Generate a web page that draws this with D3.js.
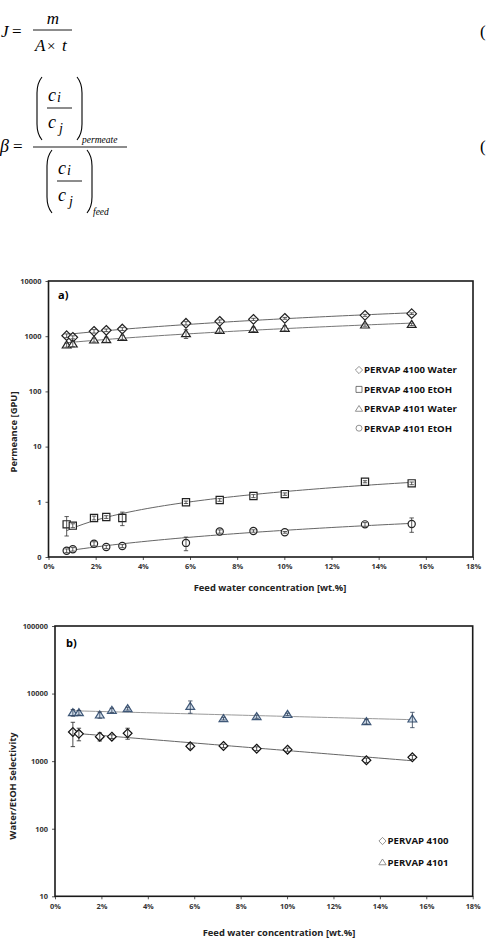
<!DOCTYPE html>
<html>
<head>
<meta charset="utf-8">
<script src="https://cdn.jsdelivr.net/npm/d3@7"></script>
<style>
  body { margin: 0; background: #fff; }
  svg { display: block; }
</style>
</head>
<body>
<script>
// feed water concentration [wt.%]
var feedWater = [0.77, 1.03, 1.93, 2.45, 3.13, 5.83, 7.26, 8.69, 10.02, 13.42, 15.4];

// a) permeance [GPU]
var perm4100Water    = [1020, 955, 1227, 1280, 1350, 1715, 1860, 2020, 2110, 2390, 2560];
var perm4100WaterErr = [80, 60, 90, 70, 80, 120, 110, 90, 80, 100, 90];
var perm4100EtOH     = [0.39, 0.37, 0.51, 0.53, 0.51, 0.98, 1.08, 1.27, 1.38, 2.31, 2.16];
var perm4100EtOHErr  = [0.15, 0.03, 0.04, 0.03, 0.14, 0.05, 0.06, 0.08, 0.07, 0.1, 0.12];
var perm4101Water    = [693, 723, 853, 865, 955, 1110, 1280, 1333, 1390, 1597, 1640];
var perm4101WaterErr = [60, 80, 70, 90, 80, 200, 100, 120, 150, 80, 80];
var perm4101EtOH     = [0.13, 0.138, 0.174, 0.152, 0.158, 0.18, 0.29, 0.296, 0.28, 0.39, 0.395];
var perm4101EtOHErr  = [0.01, 0.01, 0.015, 0.01, 0.01, 0.05, 0.02, 0.015, 0.01, 0.03, 0.115];

// b) water/EtOH selectivity
var sel4100    = [2700, 2535, 2305, 2305, 2590, 1660, 1680, 1530, 1480, 1030, 1140];
var sel4100Err = [1060, 535, 315, 150, 480, 150, 100, 100, 80, 80, 80];
var sel4101    = [5220, 5220, 4820, 5660, 5990, 6445, 4260, 4550, 4930, 3850, 4205];
var sel4101Err = [600, 400, 500, 400, 300, 1335, 200, 250, 200, 300, 1075];

// axes
var xTicks = [0, 2, 4, 6, 8, 10, 12, 14, 16, 18];
var yTicksA = [0.1, 1, 10, 100, 1000, 10000];
var yLabelsA = ["0", "1", "10", "100", "1000", "10000"];
var yTicksB = [10, 100, 1000, 10000, 100000];
var yLabelsB = ["10", "100", "1000", "10000", "100000"];

var font = "'Open Sans', 'Noto Sans', sans-serif";

var svg = d3.select("body").append("svg")
    .attr("width", 486)
    .attr("height", 940);

// ---------- equations ----------
var eq = svg.append("g")
    .attr("font-family", "'Liberation Serif', 'DejaVu Serif', serif")
    .attr("fill", "#000");

function eqText(x, y, s, size, italic, anchor) {
  eq.append("text")
    .attr("x", x).attr("y", y)
    .attr("font-size", size)
    .attr("font-style", italic ? "italic" : "normal")
    .attr("text-anchor", anchor || "start")
    .text(s);
}
function eqBar(x1, x2, y) {
  eq.append("line").attr("x1", x1).attr("x2", x2).attr("y1", y).attr("y2", y)
    .attr("stroke", "#000").attr("stroke-width", 0.9);
}
function paren(x, y1, y2, dir) {
  // dir = 1 for "(", -1 for ")"
  var w = 5 * dir;
  eq.append("path")
    .attr("d", "M" + (x + w) + "," + y1 +
      " Q" + x + "," + (y1 + 6) + " " + x + "," + (y1 + 16) +
      " L" + x + "," + (y2 - 16) +
      " Q" + x + "," + (y2 - 6) + " " + (x + w) + "," + y2)
    .attr("fill", "none").attr("stroke", "#000").attr("stroke-width", 1.1);
}

eqText(1, 37, "J", 17, true);
eqText(12, 37, "=", 17, false);
eqBar(33, 72, 30);
eqText(53, 24, "m", 17, true, "middle");
eqText(35, 51, "A", 17, true);
eqText(47, 51, "×", 15, false);
eqText(62, 51, "t", 17, true);
eqText(480, 37, "(", 17, false);

eqText(0, 152, "β", 18, true);
eqText(13, 152, "=", 17, false);
eqBar(33, 127, 147);
// numerator
paren(37, 77, 140, 1);
paren(82, 77, 140, -1);
eqText(48, 101, "c", 18, true);
eqText(57, 102, "i", 14, true);
eqBar(47, 72, 108);
eqText(48, 128, "c", 18, true);
eqText(59, 133, "j", 14, true);
eqText(82, 143, "permeate", 9.5, true);
// denominator
paren(47, 150, 213, 1);
paren(92, 150, 213, -1);
eqText(58, 174, "c", 18, true);
eqText(67, 175, "i", 14, true);
eqBar(57, 82, 181);
eqText(58, 201, "c", 18, true);
eqText(69, 206, "j", 14, true);
eqText(93, 215, "feed", 9.5, true);
eqText(480, 152, "(", 17, false);

// ---------- marker shapes ----------
function diamondPath(r) { return "M0," + (-r) + "L" + r + ",0L0," + r + "L" + (-r) + ",0Z"; }
function squarePath(r) { return "M" + (-r) + "," + (-r) + "H" + r + "V" + r + "H" + (-r) + "Z"; }
function trianglePath(r) { return "M0," + (-r) + "L" + (r * 1.1) + "," + (r * 0.75) + "L" + (-r * 1.1) + "," + (r * 0.75) + "Z"; }
function circlePath(r) { return d3.arc()({innerRadius: 0, outerRadius: r, startAngle: 0, endAngle: 2 * Math.PI}); }

// Excel style trendlines: least squares on y (linear) or on ln(y) (exponential)
function trendFit(xs, ys, type) {
  var yy = type === "exp" ? ys.map(Math.log) : ys;
  var mx = d3.mean(xs), my = d3.mean(yy);
  var sxy = d3.sum(xs, function(x, i) { return (x - mx) * (yy[i] - my); });
  var sxx = d3.sum(xs, function(x) { return (x - mx) * (x - mx); });
  var b = sxy / sxx;
  return function(x) {
    var v = my + b * (x - mx);
    return type === "exp" ? Math.exp(v) : v;
  };
}

function drawPanel(cfg) {
  var g = svg.append("g");

  var x = d3.scaleLinear().domain([0, 18]).range([cfg.left, cfg.right]);
  var y = d3.scaleLog().domain(cfg.yDomain).range([cfg.bottom, cfg.top]);

  // axes
  var xAxis = d3.axisBottom(x).tickValues(xTicks).tickSize(3)
      .tickFormat(function(d) { return d + "%"; });
  var xg = g.append("g").attr("transform", "translate(0," + cfg.bottom + ")").call(xAxis);
  var yAxis = d3.axisLeft(y).tickValues(cfg.yTicks).tickSize(3)
      .tickFormat(function(d, i) { return cfg.yLabels[i]; });
  var yg = g.append("g").attr("transform", "translate(" + cfg.left + ",0)").call(yAxis);

  [xg, yg].forEach(function(a) {
    a.select(".domain").remove();
    a.selectAll(".tick line").attr("stroke", "#555");
    a.selectAll(".tick text")
      .attr("font-family", font).attr("font-size", 7.4).attr("font-weight", "bold")
      .attr("fill", "#333");
  });
  xg.selectAll(".tick text").attr("dy", "0.85em");
  yg.selectAll(".tick text").attr("x", -7);

  // plot frame
  g.append("rect")
    .attr("x", cfg.left).attr("y", cfg.top)
    .attr("width", cfg.right - cfg.left).attr("height", cfg.bottom - cfg.top)
    .attr("fill", "none").attr("stroke", "#1a1a1a").attr("stroke-width", 1.6);

  // panel letter
  g.append("text")
    .attr("x", cfg.letterX).attr("y", cfg.letterY)
    .attr("font-family", font).attr("font-size", 11).attr("font-weight", "bold")
    .text(cfg.letter);

  // axis titles
  g.append("text")
    .attr("transform", "translate(" + cfg.yTitleX + "," + cfg.yTitleY + ") rotate(-90)")
    .attr("text-anchor", "middle")
    .attr("font-family", font).attr("font-size", 9.4).attr("font-weight", "bold")
    .attr("fill", "#222")
    .text(cfg.yTitle);
  g.append("text")
    .attr("x", cfg.xTitleX).attr("y", cfg.xTitleY)
    .attr("text-anchor", "middle")
    .attr("font-family", font).attr("font-size", 9.4).attr("font-weight", "bold")
    .attr("fill", "#222")
    .text("Feed water concentration [wt.%]");

  var line = d3.line().x(function(d) { return x(d[0]); }).y(function(d) { return y(d[1]); });

  cfg.series.forEach(function(s) {
    // trendline
    var fit = trendFit(feedWater, s.values, cfg.fitType);
    var x0 = d3.min(feedWater), x1 = d3.max(feedWater);
    var pts = d3.range(61).map(function(i) {
      var xv = x0 + (x1 - x0) * i / 60;
      return [xv, fit(xv)];
    });
    g.append("path")
      .attr("d", line(pts))
      .attr("fill", "none")
      .attr("stroke", s.lineColor)
      .attr("stroke-width", 1);
  });

  cfg.series.forEach(function(s) {
    var data = feedWater.map(function(f, i) { return {x: f, v: s.values[i], e: s.errors[i]}; });

    g.append("g").selectAll("path")
      .data(data)
      .join("path")
        .attr("transform", function(d) { return "translate(" + x(d.x) + "," + y(d.v) + ")"; })
        .attr("d", s.shape(s.size))
        .attr("fill", s.fill)
        .attr("stroke", s.stroke)
        .attr("stroke-width", 1.2);

    // error bars on top of markers
    var eb = g.append("g").selectAll("g")
      .data(data)
      .join("g")
        .attr("stroke", s.errColor)
        .attr("stroke-width", 0.8);
    eb.append("line")
      .attr("x1", function(d) { return x(d.x); })
      .attr("x2", function(d) { return x(d.x); })
      .attr("y1", function(d) { return y(d.v + d.e); })
      .attr("y2", function(d) { return y(Math.max(d.v - d.e, cfg.yDomain[0])); });
    [1, -1].forEach(function(sign) {
      eb.append("line")
        .attr("x1", function(d) { return x(d.x) - 2.2; })
        .attr("x2", function(d) { return x(d.x) + 2.2; })
        .attr("y1", function(d) { return y(d.v + sign * d.e); })
        .attr("y2", function(d) { return y(d.v + sign * d.e); });
    });
  });

  // legend
  var lg = g.append("g").selectAll("g")
    .data(cfg.series)
    .join("g")
      .attr("transform", function(d, i) {
        return "translate(" + cfg.legendX + "," + (cfg.legendY + i * cfg.legendStep) + ")";
      });
  lg.append("path")
    .attr("d", function(d) { return d.shape(d.legendSize); })
    .attr("fill", "#fff")
    .attr("stroke", function(d) { return d.legendStroke; })
    .attr("stroke-width", 0.8);
  lg.append("text")
    .attr("x", 5)
    .attr("y", 3.4)
    .attr("font-family", font).attr("font-size", 9.6).attr("font-weight", "bold")
    .attr("fill", "#111")
    .text(function(d) { return d.name; });
}

drawPanel({
  left: 48.5, right: 473, top: 281, bottom: 557,
  yDomain: [0.1, 10000], yTicks: yTicksA, yLabels: yLabelsA,
  fitType: "linear",
  letter: "a)", letterX: 58, letterY: 299,
  yTitle: "Permeance  [GPU]", yTitleX: 17, yTitleY: 432,
  xTitleX: 270, xTitleY: 591,
  legendX: 359, legendY: 370, legendStep: 19.4,
  series: [
    {name: "PERVAP 4100 Water", values: perm4100Water, errors: perm4100WaterErr,
     shape: diamondPath, size: 4.8, legendSize: 3.6, fill: "#fff", stroke: "#222",
     errColor: "#333", lineColor: "#666", legendStroke: "#777"},
    {name: "PERVAP 4100 EtOH", values: perm4100EtOH, errors: perm4100EtOHErr,
     shape: squarePath, size: 3.6, legendSize: 3, fill: "#fff", stroke: "#222",
     errColor: "#333", lineColor: "#666", legendStroke: "#555"},
    {name: "PERVAP 4101 Water", values: perm4101Water, errors: perm4101WaterErr,
     shape: trianglePath, size: 4, legendSize: 3.3, fill: "#fff", stroke: "#222",
     errColor: "#333", lineColor: "#777", legendStroke: "#777"},
    {name: "PERVAP 4101 EtOH", values: perm4101EtOH, errors: perm4101EtOHErr,
     shape: circlePath, size: 3.6, legendSize: 3, fill: "#fff", stroke: "#222",
     errColor: "#333", lineColor: "#666", legendStroke: "#777"}
  ]
});

drawPanel({
  left: 55, right: 472.7, top: 626, bottom: 896.3,
  yDomain: [10, 100000], yTicks: yTicksB, yLabels: yLabelsB,
  fitType: "exp",
  letter: "b)", letterX: 66, letterY: 647,
  yTitle: "Water/EtOH  Selectivity", yTitleX: 16, yTitleY: 786,
  xTitleX: 279, xTitleY: 936,
  legendX: 382.5, legendY: 841, legendStep: 21.3,
  series: [
    {name: "PERVAP 4100", values: sel4100, errors: sel4100Err,
     shape: diamondPath, size: 4.4, legendSize: 3.6, fill: "#fff", stroke: "#111",
     errColor: "#222", lineColor: "#666", legendStroke: "#777"},
    {name: "PERVAP 4101", values: sel4101, errors: sel4101Err,
     shape: trianglePath, size: 4, legendSize: 3.3, fill: "#d3dfec", stroke: "#3f5878",
     errColor: "#2e3f57", lineColor: "#9a9a9a", legendStroke: "#777"}
  ]
});
</script>
</body>
</html>
